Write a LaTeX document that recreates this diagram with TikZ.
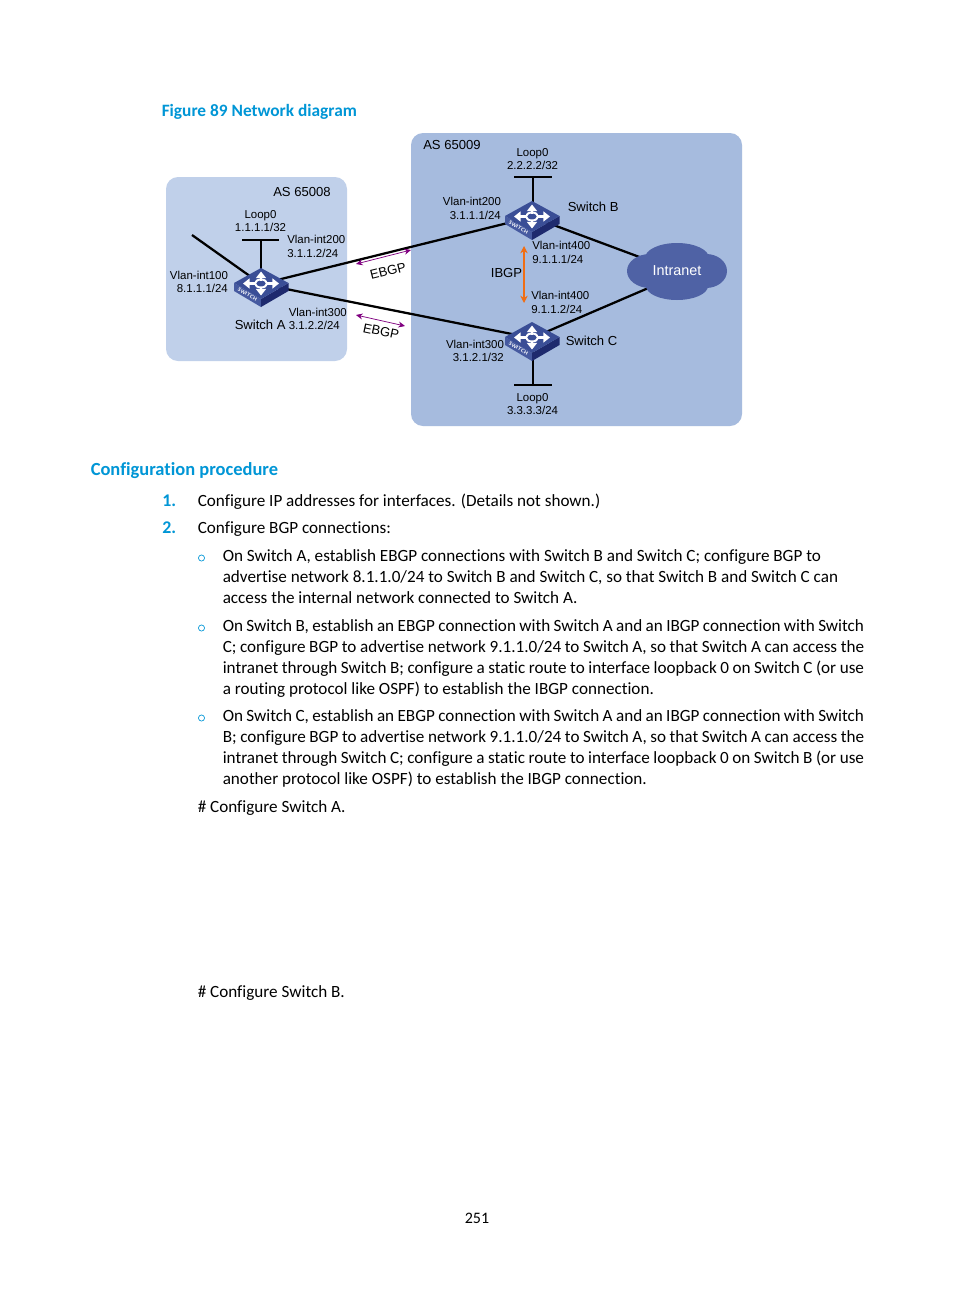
\documentclass[tikz,border=0pt]{standalone}
\usepackage{fontspec}
\usepackage{tikz}
\usetikzlibrary{arrows.meta, calc}
\setmainfont{Carlito}[Ligatures=NoCommon]
\newfontfamily\labelfont{Liberation Sans}
\definecolor{HpBlue}{RGB}{0,150,214}
\definecolor{AsLight}{RGB}{192,208,234}
\definecolor{AsDark}{RGB}{166,187,222}
\definecolor{CloudBlue}{RGB}{79,98,165}
\definecolor{SwitchTop}{RGB}{58,78,150}
\definecolor{SwitchLeft}{RGB}{70,90,160}
\definecolor{SwitchRight}{RGB}{30,42,110}
\definecolor{EbgpPurple}{RGB}{128,0,128}
\definecolor{IbgpOrange}{RGB}{240,110,20}
\tikzset{
  asbox/.style={rounded corners=9pt, inner sep=0pt},
  lbl/.style={font=\labelfont\fontsize{8.6}{10.2}\selectfont, align=center, inner sep=0pt},
  biglbl/.style={lbl, font=\labelfont\fontsize{9.8}{12}\selectfont},
  wire/.style={black, line width=1.7pt},
  thinwire/.style={black, line width=1.3pt},
  swnode/.style={inner sep=0pt, minimum width=41pt, minimum height=24pt},
  heading/.style={font=\bfseries\fontsize{13.85}{17}\selectfont, text=HpBlue, anchor=base west, inner sep=0pt},
  body/.style={font=\fontsize{12.85}{15.75}\selectfont, anchor=base west, inner sep=0pt},
  para/.style={font=\fontsize{12.85}{15.75}\selectfont, anchor=north west, inner sep=0pt,
    text width=481pt, align=justify},
  numlbl/.style={font=\bfseries\fontsize{13.4}{15.75}\selectfont, text=HpBlue, anchor=base west, inner sep=0pt},
  bullet/.style={circle, draw=HpBlue, line width=0.5pt, minimum size=4.6pt, inner sep=0pt},
  swarrow/.style={white, line width=2pt, -{Triangle[length=5pt,width=7.5pt]}},
  peer/.style={EbgpPurple, line width=0.55pt, {Stealth[length=5pt,width=4.5pt]}-{Stealth[length=5pt,width=4.5pt]}},
  switchicon/.pic={
    % body
    \fill[SwitchLeft] (-27,-1) -- (0,15) -- (0,23) -- (-27,7) -- cycle;
    \fill[SwitchRight] (27.5,-1) -- (0,15) -- (0,23) -- (27.5,7) -- cycle;
    \fill[SwitchTop] (-27,-1) -- (0,-16) -- (27.5,-1) -- (0,15) -- cycle;
    % arrows
    \draw[swarrow] (-6,-0.5) -- (-18,-0.5);
    \draw[swarrow] (6,-0.5) -- (18,-0.5);
    \draw[swarrow] (0,-3.5) -- (0,-12.5);
    \draw[swarrow] (0,2.5) -- (0,11.5);
    \draw[white, line width=1.5pt] (0,-0.5) ellipse (6 and 4);
    \node[white, font=\sffamily\bfseries\fontsize{3.8}{4}\selectfont, inner sep=0pt, rotate=-30]
      at (-13.5,10.5) {SWITCH};
  }
}
\begin{document}
\begin{tikzpicture}[x=0.75pt, y=-0.75pt]
  \useasboundingbox (0,0) rectangle (954,1296);
  \fill[white] (0,0) rectangle (954,1296);

  % Areas
  \node[asbox, fill=AsLight, minimum width=135.75pt, minimum height=138pt] (asA) at (256.5,269) {};
  \node[asbox, fill=AsDark, minimum width=248.25pt, minimum height=219.75pt] (asB) at (576.5,279.5) {};

  % Switches and cloud
  \node[swnode] (swA) at (261,284) {};
  \node[swnode] (swB) at (532,217) {};
  \node[swnode] (swC) at (532,338) {};
  \coordinate (intranet) at (677,271);
  \coordinate (intranetC) at (660,283);

  % Loopback bars
  \coordinate (loopAl) at (242,240);
  \coordinate (loopAr) at (279,240);
  \coordinate (loopAm) at (261,240);
  \coordinate (loopBl) at (514,177);
  \coordinate (loopBr) at (552,177);
  \coordinate (loopBm) at (533,177);
  \coordinate (loopCl) at (514,385);
  \coordinate (loopCr) at (552,385);
  \coordinate (loopCm) at (533,385);
  \coordinate (vlanEnd) at (192,235);

  % Links
  \draw[thinwire] (loopAl) -- (loopAr);
  \draw[thinwire] (loopAm) -- (swA.center);
  \draw[wire, line width=2.1pt] (loopBl) -- (loopBr);
  \draw[wire, line width=2.1pt] (loopBm) -- (swB.center -| loopBm);
  \draw[wire, line width=2.1pt] (loopCl) -- (loopCr);
  \draw[wire, line width=2.1pt] (loopCm) -- (swC.center -| loopCm);
  \draw[wire] (vlanEnd) -- (swA.center);
  \draw[wire] (swA.center) -- (swB.center);
  \draw[wire] (swA.center) -- (swC.center);
  \draw[wire] (swB.center) -- (intranet);
  \draw[wire] (swC.center) -- (intranetC);

  % Cloud
  \fill[CloudBlue] (650,271) ellipse (23 and 17);
  \fill[CloudBlue] (677,258) ellipse (32 and 15);
  \fill[CloudBlue] (706,271) ellipse (21 and 17);
  \fill[CloudBlue] (677,286) ellipse (31 and 14);
  \node[lbl, text=white, font=\labelfont\fontsize{10.8}{12}\selectfont] (intranetLbl) at (intranet) {Intranet};

  % Switch icons
  \foreach \sw in {swA,swB,swC}{
    \pic at (\sw) {switchicon};
  }

  % Peering arrows
  \coordinate (ebgpAa) at (356,264);
  \coordinate (ebgpAb) at (411,250);
  \coordinate (ebgpBa) at (356,315);
  \coordinate (ebgpBb) at (405,326);
  \coordinate (ibgpA) at (524,246);
  \coordinate (ibgpB) at (524,303);
  \draw[peer] (ebgpAa) -- (ebgpAb);
  \draw[peer] (ebgpBa) -- (ebgpBb);
  \draw[IbgpOrange, line width=0.8pt, {Stealth[length=5.5pt,width=5.5pt]}-{Stealth[length=5.5pt,width=5.5pt]}] (ibgpA) -- (ibgpB);

  % Diagram labels
  \node[biglbl, anchor=west] (asAlbl) at (273,192) {AS 65008};
  \node[biglbl, anchor=west] (asBlbl) at (423,145) {AS 65009};
  \node[lbl] (loopAlbl) at (260.5,221) {Loop0\\1.1.1.1/32};
  \node[lbl] (loopBlbl) at (532.5,159) {Loop0\\2.2.2.2/32};
  \node[lbl] (loopClbl) at (532.5,404) {Loop0\\3.3.3.3/24};
  \node[lbl] (v100) at (199,282) {Vlan-int100\\\hspace*{5pt}8.1.1.1/24};
  \node[lbl, anchor=west, align=left] (v200a) at (287,246.5) {Vlan-int200\\3.1.1.2/24};
  \node[lbl, anchor=west] (v300a) at (288.5,312) {Vlan-int300};
  \node[biglbl, anchor=west] (swAlbl) at (234.5,325) {Switch A};
  \node[lbl, anchor=west] (v300aip) at (288.5,325) {3.1.2.2/24};
  \node[lbl] (v200b) at (472,208.5) {Vlan-int200\\\hspace*{5pt}3.1.1.1/24};
  \node[biglbl, anchor=west] (swBlbl) at (567.5,207) {Switch B};
  \node[lbl, anchor=west, align=left] (v400b) at (532,252.5) {Vlan-int400\\9.1.1.1/24};
  \node[lbl, anchor=west, align=left] (v400c) at (531,302.5) {Vlan-int400\\9.1.1.2/24};
  \node[biglbl, anchor=west] (swClbl) at (565.5,341) {Switch C};
  \node[lbl] (v300c) at (475,351) {Vlan-int300\\\hspace*{5pt}3.1.2.1/32};
  \node[biglbl] (ibgp) at (506.5,272.5) {IBGP};
  \node[biglbl, rotate=14] (ebgpA) at (388,271) {EBGP};
  \node[biglbl, rotate=-12] (ebgpB) at (381,331.5) {EBGP};

  % Page text
  \node[heading, font=\bfseries\fontsize{13}{16}\selectfont] (figtitle) at (161.5,116) {Figure 89 Network diagram};
  \node[heading] (proc) at (90.5,475) {Configuration procedure};
  \node[numlbl] (n1) at (162,506) {1.};
  \node[body] (s1) at (197.5,506) {Configure IP addresses for interfaces. (Details not shown.)};
  \node[numlbl] (n2) at (162,533) {2.};
  \node[body] (s2) at (197.5,533) {Configure BGP connections:};
  \node[bullet] (b1) at (201.5,558) {};
  \node[bullet] (b2) at (201.5,628) {};
  \node[bullet] (b3) at (201.5,718) {};
  \node[para] (p1) at (222.5,549.5) {On Switch A, establish EBGP connections with Switch B and Switch C; configure BGP to\newline
    advertise network 8.1.1.0/24 to Switch B and Switch C, so that Switch B and Switch C can\newline
    access the internal network connected to Switch A.};
  \node[para] (p2) at (222.5,619.5) {On Switch B, establish an EBGP connection with Switch A and an IBGP connection with Switch\linebreak
    C; configure BGP to advertise network 9.1.1.0/24 to Switch A, so that Switch A can access the\linebreak
    intranet through Switch B; configure a static route to interface loopback 0 on Switch C (or use\linebreak
    a routing protocol like OSPF) to establish the IBGP connection.};
  \node[para] (p3) at (222.5,709.5) {On Switch C, establish an EBGP connection with Switch A and an IBGP connection with Switch\linebreak
    B; configure BGP to advertise network 9.1.1.0/24 to Switch A, so that Switch A can access the\linebreak
    intranet through Switch C; configure a static route to interface loopback 0 on Switch B (or use\linebreak
    another protocol like OSPF) to establish the IBGP connection.};
  \node[body] (c1) at (197.5,812) {\# Configure Switch A.};
  \node[body] (c2) at (197.5,997) {\# Configure Switch B.};
  \node[font=\fontsize{12}{14}\selectfont, inner sep=0pt] (pagenum) at (477,1218) {251};
\end{tikzpicture}
\end{document}
